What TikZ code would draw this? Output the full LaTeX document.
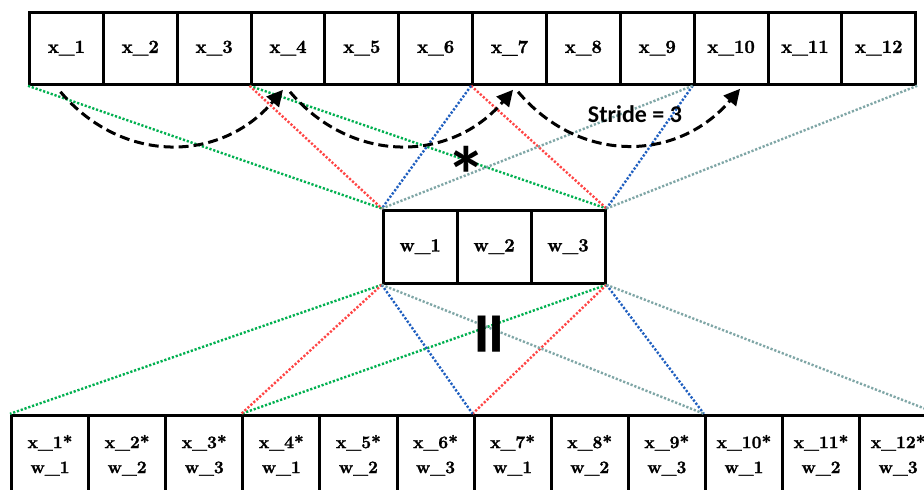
\documentclass[tikz,border=0pt]{standalone}
\usepackage{fontspec}
\newfontfamily\carl{Carlito}
\newfontfamily\cellfont{Latin Modern Roman}[BoldFeatures={FakeBold=1.5}]
\usetikzlibrary{arrows.meta,calc}
\definecolor{dgreen}{HTML}{00B050}
\definecolor{dred}{HTML}{FF4545}
\definecolor{dblue}{HTML}{1F5FC0}
\definecolor{dgray}{HTML}{7FA6A6}
\begin{document}
\begin{tikzpicture}[x=1pt,y=-1pt,
 cell/.style={draw=black,line width=3pt,fill=white,minimum width=73.85pt,minimum height=72.3pt,inner sep=0pt,font=\cellfont\fontsize{18.5}{22}\selectfont\bfseries},
 wcell/.style={cell,minimum width=73.9pt,minimum height=73.3pt},
 ocell/.style={cell,minimum width=77.1pt,minimum height=80pt,align=center,font=\cellfont\fontsize{17.5}{25}\selectfont\bfseries},
 dots/.style={line width=2.4pt,dash pattern=on 2.2pt off 1.8pt},
 hop/.style={line width=3pt,dash pattern=on 10pt off 5pt,-{Triangle[length=16pt,width=16pt]}}
]
\useasboundingbox (0,0) rectangle (924,490);
\clip (0,0) rectangle (924,490);
\fill[white] (0,0) rectangle (924,490);
% input row
\foreach \i in {1,...,12}
  \node[cell] (x\i) at ({29.5+73.85*(\i-0.5)},48.15) {x\_\i};
% kernel
\foreach \i in {1,2,3}
  \node[wcell] (w\i) at ({383.3+73.9*(\i-0.5)},246.65) {w\_\i};
% output row
\foreach \i/\j in {1/1,2/2,3/3,4/1,5/2,6/3,7/1,8/2,9/3,10/1,11/2,12/3}
  \node[ocell] (y\i) at ({11.5+77.1*(\i-0.5)},455.3) {x\_\i*\\w\_\j};
% top connectors
\draw[dots,dgreen] (x1.south west) -- (w1.north west);
\draw[dots,dgreen] (x4.south west) -- (w3.north east);
\draw[dots,dred] (x4.south west) -- (w1.north west);
\draw[dots,dred] (x7.south west) -- (w3.north east);
\draw[dots,dblue] (x7.south west) -- (w1.north west);
\draw[dots,dblue] (x10.south west) -- (w3.north east);
\draw[dots,dgray] (x10.south west) -- (w1.north west);
\draw[dots,dgray] (x12.south east) -- (w3.north east);
% bottom connectors
\draw[dots,dgreen] (w1.south west) -- (y1.north west);
\draw[dots,dgreen] (w3.south east) -- (y4.north west);
\draw[dots,dred] (w1.south west) -- (y4.north west);
\draw[dots,dred] (w3.south east) -- (y7.north west);
\draw[dots,dblue] (w1.south west) -- (y7.north west);
\draw[dots,dblue] (w3.south east) -- (y10.north west);
\draw[dots,dgray] (w1.south west) -- (y10.north west);
\draw[dots,dgray] (w3.south east) -- (y12.north east);
% stride hops
\coordinate (s1) at ([shift={(-6,6)}]x1.south);
\coordinate (e1) at ([shift={(-5,4)}]x4.south);
\coordinate (s2) at ([shift={(2,6)}]x4.south);
\coordinate (e2) at ([shift={(3.5,4)}]x7.south);
\coordinate (s3) at ([shift={(8.5,6)}]x7.south);
\coordinate (e3) at ([shift={(9,3)}]x10.south);
\draw[hop] (s1) .. controls +(62,73) and +(-62,73) .. (e1);
\draw[hop] (s2) .. controls +(62,73) and +(-62,73) .. (e2);
\draw[hop] (s3) .. controls +(62,73) and +(-62,73) .. (e3);
\node[font=\carl\bfseries\fontsize{24}{26}\selectfont,anchor=base,inner sep=0pt] (stride) at (635,122) {Stride = 3};
\node[font=\carl\bfseries\fontsize{80}{80}\selectfont,anchor=base,inner sep=0pt] (star) at (466,203) {*};
\node[font=\carl\bfseries\fontsize{86}{86}\selectfont,rotate=90,inner sep=0pt] (eq) at (497,334) {=};
\end{tikzpicture}
\end{document}
